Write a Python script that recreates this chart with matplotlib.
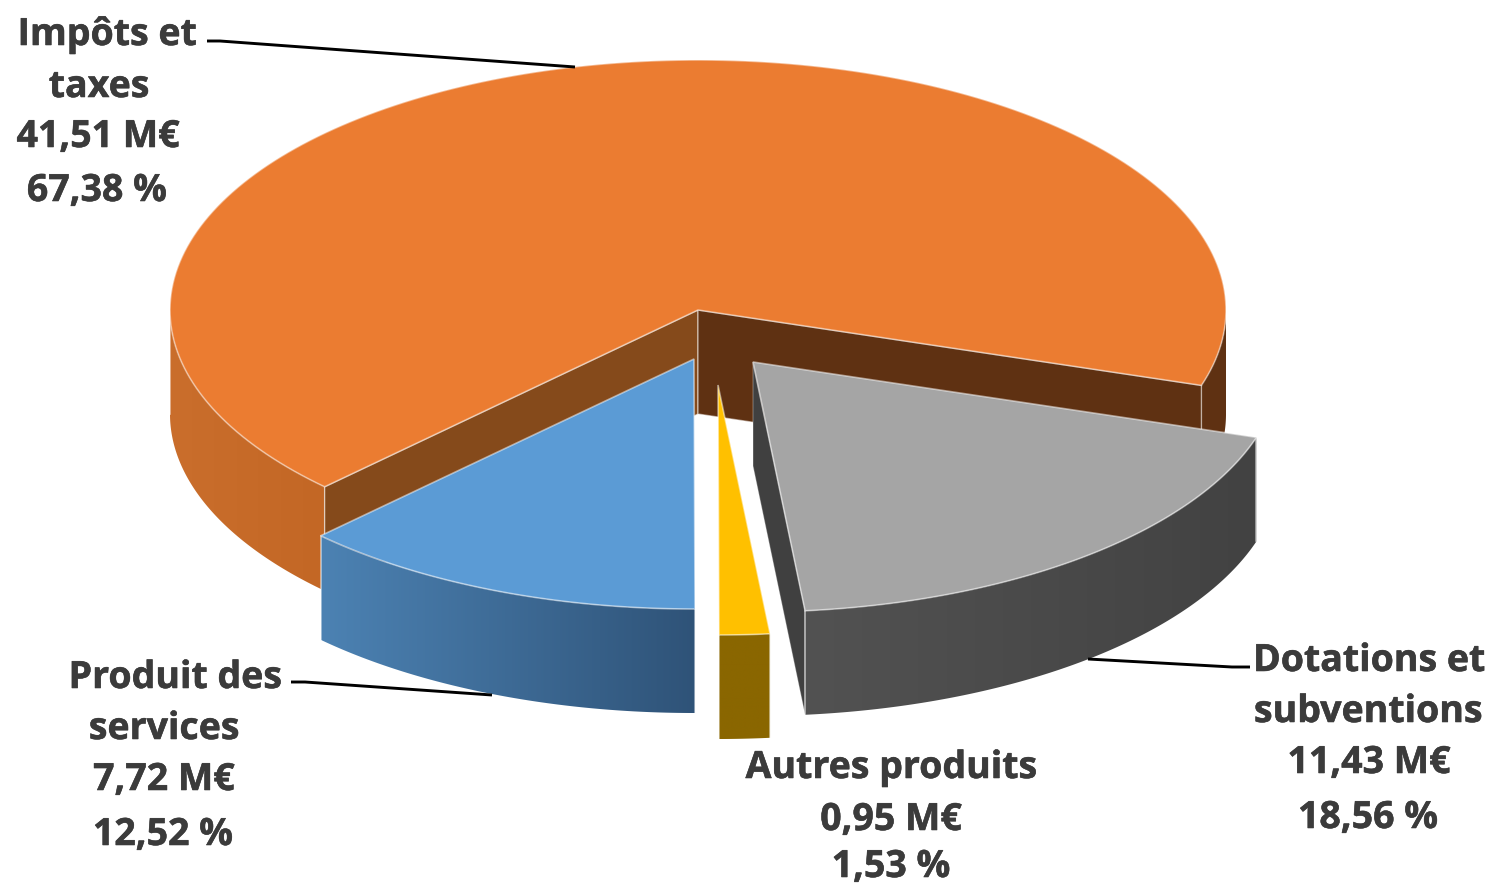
#!/usr/bin/env python3
# -*- coding: utf-8 -*-
import numpy as np
import matplotlib
matplotlib.use("Agg")
import matplotlib.pyplot as plt
import matplotlib.patheffects as pe
from matplotlib.patches import Polygon
from matplotlib.colors import LinearSegmentedColormap, to_rgba

### recettes de fonctionnement
noms = [["Impôts et", "taxes"], ["Dotations et", "subventions"],
        ["Autres produits"], ["Produit des", "services"]]
montants = [41.51, 11.43, 0.95, 7.72]
pourcents = [67.38, 18.56, 1.53, 12.52]

### couleurs
TOP = ["#eb7c31", "#a5a5a5", "#ffc000", "#5b9bd5"]
SIDE = [("#ca6e2c", "#c36725"), ("#525252", "#424242"),
        ("#8a6600", "#8a6600"), ("#4c82b3", "#2f5378")]
TEXTE = "#3b3b3b"

### geometrie du camembert
CX, CY = 698, 310
RX, RY = 528, 250
DEPTH = 104
START = 135.0
OFFSETS = [(0, 0), (55, 52), (20, 75), (-4, 49)]


def arc(t0, t1, dx=0, dy=0):
    t = np.radians(np.linspace(t0, t1, 200))
    return np.column_stack([CX + dx + RX * np.cos(t), CY + dy + RY * np.sin(t)])


def extrude(pts):
    return np.vstack([pts, pts[::-1] + [0, DEPTH]])


def gradient_wall(ax, pts, colors, z):
    poly = Polygon(extrude(pts), closed=True, fc="none", ec="none", zorder=z)
    ax.add_patch(poly)
    cmap = LinearSegmentedColormap.from_list("w", colors)
    x0, x1 = pts[:, 0].min(), pts[:, 0].max()
    y0, y1 = pts[:, 1].min(), pts[:, 1].max() + DEPTH
    im = ax.imshow(np.linspace(0, 1, 256).reshape(1, -1), cmap=cmap, aspect="auto",
                   extent=[x0, x1, y1, y0], zorder=z, interpolation="bilinear")
    im.set_clip_path(poly)
    # liseré clair le long du bord
    ax.plot([pts[0, 0]] * 2, [pts[0, 1], pts[0, 1] + DEPTH], color="white", alpha=0.55, lw=1.2, zorder=z + 0.1)
    ax.plot([pts[-1, 0]] * 2, [pts[-1, 1], pts[-1, 1] + DEPTH], color="white", alpha=0.55, lw=1.2, zorder=z + 0.1)


fig = plt.figure(figsize=(14.92, 8.86), dpi=100)
ax = fig.add_axes([0, 0, 1, 1])
ax.axis("off")

# angles des parts, dans le sens horaire
sweeps = np.array(montants) / sum(montants) * 360
bounds = START + np.concatenate([[0], np.cumsum(sweeps)])
edge = to_rgba("white", 0.5)

### part 0 : impots et taxes (parois arriere d'abord)
t0, t1 = bounds[0], bounds[1]
centre = np.array([[CX, CY]], dtype=float)
p0 = arc(t0, t0)[0]
p1 = arc(t1, t1)[0]
ax.add_patch(Polygon(extrude(arc(360, t1)), fc="#5f3112", ec="none", zorder=1))
gradient_wall(ax, arc(t0, 180), SIDE[0], 1)
ax.add_patch(Polygon([[CX, CY], p0, p0 + [0, DEPTH], [CX, CY + DEPTH]], fc="#854a1b", ec=edge, lw=1, zorder=2))
ax.add_patch(Polygon([[CX, CY], p1, p1 + [0, DEPTH], [CX, CY + DEPTH]], fc="#5f3112", ec=edge, lw=1, zorder=2))
ax.add_patch(Polygon(np.vstack([centre, arc(t0, t1)]), fc=TOP[0], ec=to_rgba("white", 0.45), lw=1.2, zorder=3))

### parts detachees
for i in [1, 2, 3]:
    t0, t1 = bounds[i], bounds[i + 1]
    t0 = t0 % 360
    t1 = t0 + sweeps[i]
    dx, dy = OFFSETS[i]
    apex = np.array([[CX + dx, CY + dy]], dtype=float)
    top = arc(t0, t1, dx, dy)
    if i == 1:
        # paroi interne visible de la part grise
        b = top[-1]
        ax.add_patch(Polygon([apex[0], b, b + [0, DEPTH], apex[0] + [0, DEPTH]],
                             fc="#404040", ec=to_rgba("white", 0.3), lw=0.8, zorder=4))
    gradient_wall(ax, top[::-1] if i != 3 else top, SIDE[i], 5)
    ax.add_patch(Polygon(np.vstack([apex, top]), fc=TOP[i], ec=to_rgba("white", 0.5), lw=1.2, zorder=6))

### traits de rappel
leaders = [([207, 220, 575], [41, 41, 67]),
           ([1088, 1232, 1250], [659, 667, 667]),
           ([291, 305, 492], [682, 682, 695])]
for xs, ys in leaders:
    ax.plot(xs, ys, color="black", lw=2.1, zorder=7, solid_capstyle="butt")

### etiquettes
positions = [[(107, 35), (99, 87), (98, 137), (97, 191)],
             [(1369, 661), (1368, 712), (1369, 763), (1368, 818)],
             [(891, 768), (891, 820), (891, 867)],
             [(175, 678), (164, 729), (164, 780), (163, 835)]]
for i in range(4):
    lignes = noms[i] + [f"{montants[i]:.2f} M€".replace(".", ","),
                        f"{pourcents[i]:.2f} %".replace(".", ",")]
    for txt, (x, y) in zip(lignes, positions[i]):
        ax.text(x, y, txt, ha="center", va="center", family="Open Sans", weight="bold",
                fontsize=27, color=TEXTE, zorder=8,
                path_effects=[pe.withStroke(linewidth=0.4, foreground=TEXTE)])

ax.set_xlim(0, 1492)
ax.set_ylim(886, 0)
fig.savefig("out.png", dpi=100, facecolor="white")
